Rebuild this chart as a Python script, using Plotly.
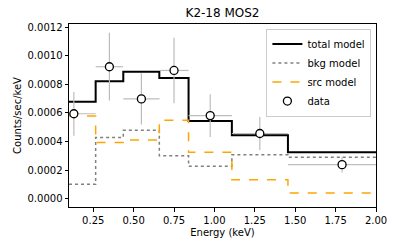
import plotly.graph_objects as go

# Bin edges (keV)
edges = [0.1, 0.265, 0.436, 0.659, 0.84, 1.108, 1.455, 2.0]
total_model = [0.000678, 0.000821, 0.000888, 0.000844, 0.000543, 0.000444, 0.000324]
bkg_model = [0.000100, 0.000428, 0.000479, 0.000300, 0.000227, 0.000307, 0.000289]
src_model = [0.000578, 0.000393, 0.000411, 0.000548, 0.000324, 0.000132, 0.0000395]

data_x = [0.13, 0.35, 0.548, 0.75, 0.974, 1.281, 1.79]
data_xerr = [0.135, 0.085, 0.112, 0.09, 0.134, 0.173, 0.335]
data_y = [0.000594, 0.000923, 0.000698, 0.000897, 0.000581, 0.000456, 0.000238]
data_yerr = [0.000153, 0.000237, 0.000179, 0.000229, 0.000150, 0.000116, 0.000055]

xticks = [0.25, 0.50, 0.75, 1.00, 1.25, 1.50, 1.75, 2.00]
yticks = [0.0, 0.0002, 0.0004, 0.0006, 0.0008, 0.0010, 0.0012]

font = "DejaVu Sans"
fig = go.Figure()

def step(vals):
    return list(vals) + [vals[-1]]

fig.add_trace(go.Scatter(x=edges, y=step(total_model), mode="lines", line_shape="hv",
                         line=dict(color="black", width=2), name="total model"))
fig.add_trace(go.Scatter(x=edges, y=step(bkg_model), mode="lines", line_shape="hv",
                         line=dict(color="gray", width=1.5, dash="dot"), name="bkg model"))
fig.add_trace(go.Scatter(x=edges, y=step(src_model), mode="lines", line_shape="hv",
                         line=dict(color="#ffa500", width=1.5, dash="dash"), name="src model"))
fig.add_trace(go.Scatter(x=data_x, y=data_y, mode="markers", name="data",
                         marker=dict(symbol="circle", size=8, color="white",
                                     line=dict(color="black", width=1.3)),
                         error_x=dict(type="data", array=data_xerr, color="#bdbdbd", thickness=1.2, width=0),
                         error_y=dict(type="data", array=data_yerr, color="#bdbdbd", thickness=1.2, width=0)))

axis_common = dict(showline=True, linecolor="black", linewidth=1, mirror=True,
                   ticks="outside", ticklen=3.5, tickwidth=1, tickcolor="black",
                   showgrid=False, zeroline=False, automargin=False,
                   tickfont=dict(family=font, size=10, color="black"))

fig.update_layout(
    width=397, height=249,
    margin=dict(l=69, r=21, t=24, b=42),
    paper_bgcolor="white", plot_bgcolor="white",
    font=dict(family=font, color="black"),
    title=dict(text="K2-18 MOS2", x=(69 + 376) / 2 / 397, xanchor="center",
               y=1 - 13 / 249, yanchor="middle",
               font=dict(family=font, size=12, color="black")),
    xaxis=dict(range=[0.1, 2.0], tickvals=xticks, tickformat=".2f",
               title=dict(text="Energy (keV)", font=dict(family=font, size=10), standoff=4),
               **axis_common),
    yaxis=dict(range=[-0.0000583, 0.001222], tickvals=yticks, tickformat=".4f",
               title=dict(text="Counts/sec/keV", font=dict(family=font, size=10), standoff=4),
               **axis_common),
    legend=dict(x=0.985, y=0.975, xanchor="right", yanchor="top",
                bgcolor="rgba(255,255,255,0.8)", bordercolor="#cccccc", borderwidth=1,
                font=dict(family=font, size=10), tracegroupgap=0, itemwidth=30),
    showlegend=True,
)

fig.write_html("out.html", config={"displayModeBar": False},
               post_script="document.body.style.margin='0';")
